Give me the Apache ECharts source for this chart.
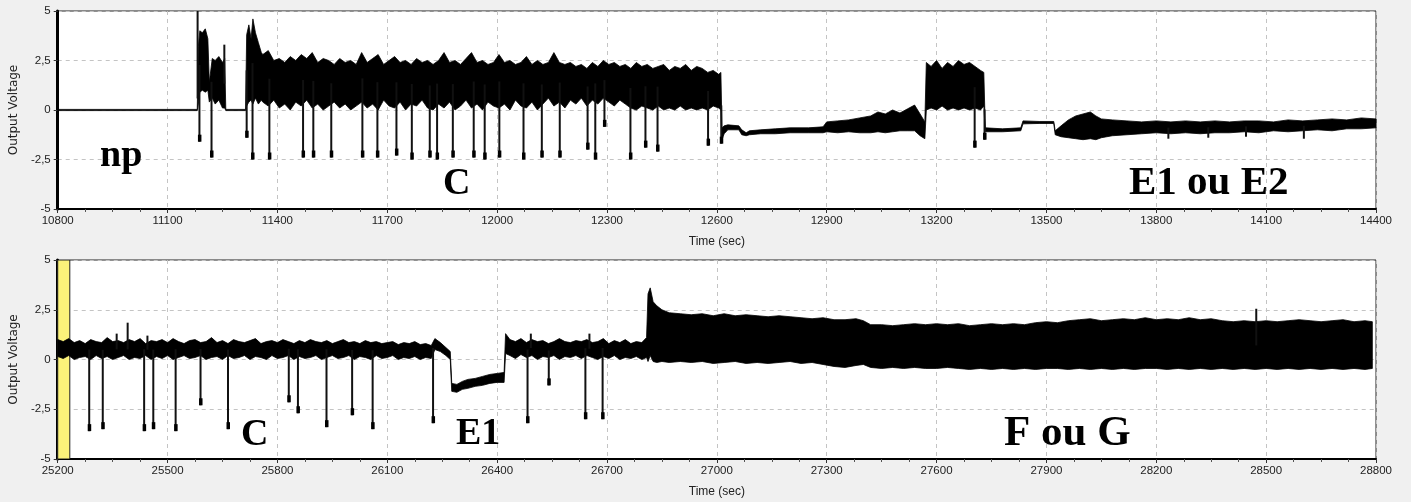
<!DOCTYPE html>
<html>
<head>
<meta charset="utf-8">
<title>Output Voltage – EPG</title>
<script src="https://cdn.jsdelivr.net/npm/echarts@6.0.0/dist/echarts.min.js"></script>
<style>
  html, body { margin: 0; padding: 0; background: #f0f0f0; }
  #chart { width: 1411px; height: 502px; }
</style>
</head>
<body>
<div id="chart"></div>
<script>
// Recording windows (seconds)
const topRange = [10800, 14400];
const bottomRange = [25200, 28800];

// Signal envelope, upper recording: [time, low, high] (volts)
const topEnvelope = [
  [10800, -0.03, 0.03], [11181, -0.03, 0.03],
  [11184, 0.3, 3.2], [11188, 0.9, 4.0], [11195, 1.0, 3.9], [11203, 0.9, 4.1], [11210, 1.0, 3.6], [11214, 0.4, 1.4],
  [11222, 0.6, 2.6], [11230, 0.3, 2.5], [11240, 0.5, 2.7], [11250, 0.1, 2.4], [11256, 0.1, 2.6],
  [11259, -0.03, 0.03], [11313, -0.03, 0.03],
  [11316, 0.2, 3.8], [11322, 0.4, 4.3], [11328, 0.5, 3.6], [11333, 0.3, 4.6], [11340, 0.6, 3.9], [11348, 0.3, 3.4], [11356, 0.5, 2.9],
  [11360, 0.4, 2.8], [11375, 0.2, 3.0], [11390, 0.5, 2.5], [11405, 0.1, 2.6], [11420, 0.3, 2.4], [11435, 0.0, 2.7],
  [11450, 0.4, 2.5], [11465, 0.2, 2.8], [11480, 0.5, 2.6], [11495, 0.1, 2.9], [11510, 0.3, 2.4], [11525, 0.0, 2.6],
  [11540, 0.2, 2.5], [11555, 0.4, 2.3], [11570, 0.1, 2.6], [11585, 0.3, 2.4], [11600, 0.0, 2.5], [11615, 0.2, 2.3],
  [11630, 0.4, 2.9], [11645, 0.1, 2.4], [11660, 0.3, 2.6], [11675, 0.0, 2.8], [11690, 0.5, 2.3], [11705, 0.2, 2.5],
  [11720, 0.1, 2.7], [11735, 0.4, 2.4], [11750, 0.0, 2.5], [11765, 0.3, 2.3], [11780, 0.2, 2.6], [11795, 0.5, 2.4],
  [11810, 0.1, 2.5], [11825, 0.0, 2.3], [11840, 0.3, 2.5], [11855, 0.1, 2.9], [11870, 0.4, 2.4], [11885, 0.0, 2.5],
  [11900, 0.2, 2.3], [11915, 0.5, 2.6], [11930, 0.1, 2.9], [11945, 0.3, 2.4], [11960, 0.0, 2.5], [11975, 0.4, 2.3],
  [11990, 0.2, 2.4], [12005, 0.1, 2.8], [12020, 0.3, 2.4], [12035, 0.0, 2.5], [12050, 0.5, 2.3], [12065, 0.2, 2.4],
  [12080, 0.1, 2.7], [12095, 0.4, 2.3], [12110, 0.0, 2.5], [12125, 0.3, 2.3], [12140, 0.6, 2.4], [12155, 0.2, 2.9],
  [12170, 0.4, 2.4], [12185, 0.1, 2.3], [12200, 0.5, 2.4], [12215, 0.3, 2.2], [12230, 0.6, 2.3], [12245, 0.2, 2.1],
  [12260, 0.5, 2.4], [12275, 0.3, 2.2], [12290, 0.6, 2.5], [12305, 0.4, 2.3], [12320, 0.2, 2.4], [12335, 0.5, 2.2],
  [12350, 0.3, 2.3], [12365, 0.1, 2.1], [12380, 0.0, 2.4], [12395, 0.2, 2.2], [12410, 0.1, 2.3], [12425, 0.0, 2.1],
  [12440, 0.2, 2.2], [12455, 0.0, 2.3], [12470, 0.1, 2.0], [12485, 0.0, 2.2], [12500, 0.2, 2.1], [12515, 0.0, 2.3],
  [12530, 0.1, 2.0], [12545, 0.0, 2.2], [12560, 0.1, 2.1], [12575, 0.0, 1.9], [12590, 0.2, 2.0], [12605, 0.1, 1.8],
  [12611, 0.0, 1.9],
  [12614, -1.5, -0.9], [12620, -1.2, -0.8], [12630, -1.0, -0.75], [12660, -1.0, -0.8], [12668, -1.25, -1.0],
  [12680, -1.3, -1.15], [12689, -1.25, -1.05], [12720, -1.2, -1.0], [12760, -1.2, -0.95], [12800, -1.15, -0.9],
  [12850, -1.15, -0.9], [12890, -1.15, -0.85], [12900, -1.1, -0.6], [12930, -1.15, -0.55], [12960, -1.1, -0.5],
  [12990, -1.15, -0.4], [13020, -1.15, -0.3], [13040, -1.1, -0.1], [13060, -1.15, -0.2], [13080, -1.1, 0.0],
  [13100, -1.05, -0.15], [13120, -1.05, 0.05], [13140, -1.05, 0.25], [13155, -1.3, -0.2], [13168, -1.45, -0.6],
  [13172, 0.0, 2.4], [13185, 0.1, 2.2], [13200, 0.0, 2.5], [13215, 0.2, 2.1], [13230, 0.0, 2.4], [13245, 0.1, 2.2],
  [13260, 0.0, 2.5], [13275, 0.1, 2.3], [13290, 0.0, 2.4], [13305, 0.1, 2.2], [13320, 0.0, 2.0], [13329, 0.2, 1.9],
  [13333, -1.1, -0.9], [13380, -1.1, -0.95], [13430, -1.05, -0.9], [13436, -0.7, -0.55], [13480, -0.68, -0.58],
  [13520, -0.68, -0.58], [13524, -1.25, -1.05], [13540, -1.35, -0.8], [13560, -1.4, -0.5], [13580, -1.45, -0.3],
  [13600, -1.5, -0.2], [13620, -1.45, -0.1], [13635, -1.5, -0.3], [13650, -1.4, -0.45], [13680, -1.3, -0.5],
  [13720, -1.25, -0.55], [13760, -1.2, -0.6], [13800, -1.15, -0.55], [13840, -1.2, -0.6], [13880, -1.15, -0.55],
  [13920, -1.2, -0.6], [13960, -1.15, -0.55], [14000, -1.15, -0.6], [14040, -1.1, -0.55], [14080, -1.15, -0.55],
  [14120, -1.05, -0.6], [14160, -1.1, -0.5], [14200, -1.05, -0.55], [14240, -1.0, -0.5], [14280, -1.05, -0.45],
  [14320, -0.95, -0.5], [14360, -0.95, -0.4], [14400, -0.9, -0.45]
];

// Isolated needles (potential drops and spikes), upper recording: [time, peak volts]
const topNeedles = [
  [11182, 5.0], [11187, -1.6], [11220, -2.4], [11255, 3.3], [11316, -1.4], [11332, -2.5],
  [11378, -2.5], [11470, -2.4], [11498, -2.4], [11547, -2.4], [11632, -2.4], [11673, -2.4],
  [11725, -2.3], [11767, -2.5], [11816, -2.4], [11836, -2.5], [11879, -2.4], [11936, -2.4],
  [11966, -2.5], [12006, -2.4], [12072, -2.5], [12122, -2.4], [12171, -2.4], [12247, -2.0],
  [12268, -2.5], [12293, -0.85], [12364, -2.5], [12405, -1.9], [12438, -2.1], [12576, -1.8],
  [12612, -1.7], [13304, -1.9], [13331, -1.5], [13833, -1.45], [13942, -1.4], [14045, -1.35],
  [14203, -1.45]
];

// Signal envelope, lower recording: [time, low, high] (volts)
const bottomEnvelope = [
  [25200, 0.15, 1.0], [25215, 0.05, 0.9], [25230, 0.2, 1.05], [25245, 0.0, 0.85], [25260, 0.1, 0.95],
  [25275, 0.15, 0.8], [25290, 0.0, 1.0], [25305, 0.2, 0.9], [25320, 0.05, 0.85], [25335, 0.15, 1.1],
  [25350, 0.0, 0.9], [25365, 0.1, 0.95], [25380, 0.2, 0.85], [25395, 0.0, 1.0], [25410, 0.1, 0.9],
  [25425, 0.05, 1.05], [25440, 0.2, 0.8], [25455, 0.0, 0.95], [25470, 0.15, 0.9], [25485, 0.05, 1.0],
  [25500, 0.2, 0.85], [25515, 0.0, 1.05], [25530, 0.1, 0.9], [25545, 0.2, 0.8], [25560, 0.05, 0.95],
  [25575, 0.1, 1.0], [25590, 0.2, 0.85], [25605, 0.0, 0.9], [25620, 0.1, 1.1], [25635, 0.15, 0.85],
  [25650, 0.0, 0.95], [25665, 0.2, 0.8], [25680, 0.05, 1.0], [25695, 0.1, 0.9], [25710, 0.2, 0.85],
  [25725, 0.0, 0.95], [25740, 0.15, 1.05], [25755, 0.1, 0.8], [25770, 0.0, 0.9], [25785, 0.2, 0.95],
  [25800, 0.05, 0.85], [25815, 0.1, 1.0], [25830, 0.2, 0.9], [25845, 0.0, 0.8], [25860, 0.15, 0.95],
  [25875, 0.05, 0.85], [25890, 0.1, 1.0], [25905, 0.2, 0.9], [25920, 0.0, 0.85], [25935, 0.1, 0.95],
  [25950, 0.2, 0.8], [25965, 0.05, 0.9], [25980, 0.1, 1.0], [25995, 0.2, 0.85], [26010, 0.0, 0.9],
  [26025, 0.15, 0.8], [26040, 0.1, 0.95], [26055, 0.0, 0.85], [26070, 0.2, 0.9], [26085, 0.05, 0.8],
  [26100, 0.1, 0.85], [26115, 0.2, 0.9], [26130, 0.0, 0.75], [26145, 0.1, 0.85], [26160, 0.05, 0.8],
  [26175, 0.15, 0.9], [26190, 0.0, 0.75], [26205, 0.1, 0.8], [26220, 0.05, 0.7],
  [26230, 0.5, 1.05], [26245, 0.4, 0.85], [26260, 0.2, 0.6], [26272, 0.0, 0.4],
  [26276, -1.6, -1.2], [26290, -1.65, -1.25], [26305, -1.5, -1.1], [26320, -1.45, -1.0], [26340, -1.35, -0.95],
  [26360, -1.3, -0.85], [26380, -1.2, -0.75], [26400, -1.15, -0.7], [26419, -1.15, -0.65],
  [26423, 0.3, 1.3], [26435, 0.2, 1.0], [26450, 0.05, 0.9], [26465, 0.25, 1.05], [26480, 0.1, 0.85],
  [26495, 0.2, 1.0], [26510, 0.0, 0.9], [26525, 0.15, 0.95], [26540, 0.1, 0.8], [26555, 0.2, 0.9],
  [26570, 0.0, 1.05], [26585, 0.15, 0.9], [26600, 0.1, 0.85], [26615, 0.2, 0.95], [26630, 0.05, 0.9],
  [26645, 0.2, 1.0], [26660, 0.1, 0.85], [26675, 0.0, 0.9], [26690, 0.15, 1.05], [26705, 0.05, 0.8],
  [26720, 0.2, 0.95], [26735, 0.0, 0.85], [26750, 0.1, 1.0], [26765, 0.05, 0.8], [26780, 0.15, 0.9],
  [26795, 0.0, 0.85], [26808, 0.1, 1.1],
  [26812, -0.1, 3.3], [26818, 0.2, 3.6], [26826, -0.1, 2.9], [26836, -0.15, 2.7], [26850, -0.1, 2.5],
  [26870, -0.15, 2.35], [26900, -0.1, 2.3], [26930, -0.15, 2.25], [26960, -0.1, 2.3], [26990, -0.2, 2.2],
  [27020, -0.15, 2.3], [27050, -0.1, 2.2], [27080, -0.2, 2.25], [27110, -0.15, 2.2], [27140, -0.2, 2.15],
  [27170, -0.15, 2.2], [27200, -0.1, 2.15], [27230, -0.2, 2.1], [27260, -0.15, 2.05], [27290, -0.25, 2.1],
  [27320, -0.35, 2.0], [27350, -0.4, 2.0], [27380, -0.3, 2.05], [27400, -0.25, 1.95], [27420, -0.4, 1.75],
  [27450, -0.45, 1.75], [27480, -0.4, 1.7], [27510, -0.45, 1.75], [27540, -0.4, 1.8], [27570, -0.45, 1.75],
  [27600, -0.45, 1.8], [27630, -0.4, 1.75], [27660, -0.45, 1.8], [27690, -0.5, 1.7], [27720, -0.45, 1.75],
  [27750, -0.5, 1.8], [27780, -0.45, 1.75], [27810, -0.5, 1.8], [27840, -0.45, 1.75], [27870, -0.5, 1.85],
  [27900, -0.45, 1.9], [27930, -0.45, 1.85], [27960, -0.5, 1.95], [27990, -0.45, 2.0], [28020, -0.5, 2.05],
  [28050, -0.45, 1.95], [28080, -0.5, 2.0], [28110, -0.45, 2.05], [28140, -0.5, 2.0], [28170, -0.45, 2.1],
  [28200, -0.45, 2.0], [28230, -0.5, 2.05], [28260, -0.45, 2.0], [28290, -0.5, 2.1], [28320, -0.45, 2.0],
  [28350, -0.5, 2.05], [28380, -0.45, 1.95], [28410, -0.5, 1.9], [28440, -0.45, 1.95], [28470, -0.5, 1.9],
  [28500, -0.45, 1.95], [28530, -0.5, 1.9], [28560, -0.45, 1.95], [28590, -0.5, 2.0], [28620, -0.45, 1.95],
  [28650, -0.5, 1.9], [28680, -0.45, 1.95], [28710, -0.5, 2.0], [28740, -0.45, 1.9], [28770, -0.5, 1.95],
  [28790, -0.45, 1.9]
];

// Isolated needles, lower recording: [time, peak volts]
const bottomNeedles = [
  [25286, -3.6], [25323, -3.5], [25361, 1.3], [25391, 1.85], [25436, -3.6], [25445, 1.2],
  [25461, -3.5], [25522, -3.6], [25590, -2.3], [25665, -3.5], [25831, -2.15], [25856, -2.7],
  [25934, -3.4], [26004, -2.8], [26060, -3.5], [26225, -3.2], [26483, -3.2], [26492, 1.3],
  [26541, -1.3], [26641, -3.0], [26652, 1.3], [26688, -3.0], [28473, 2.55]
];

// Highlighted start of the lower recording: [from, to] seconds
const bottomMarker = [[25200, 25233]];

// Waveform phase labels
const topPhaseLabels = ['np', 'C', 'E1 ou E2'];
const bottomPhaseLabels = ['C', 'E1', 'F ou G'];

const chart = echarts.init(document.getElementById('chart'), null, { renderer: 'canvas' });

function envelopeMid(env, t) {
  for (let i = 1; i < env.length; i++) {
    if (env[i][0] >= t) {
      const a = env[i - 1], b = env[i];
      const f = b[0] === a[0] ? 0 : (t - a[0]) / (b[0] - a[0]);
      const lo = a[1] + (b[1] - a[1]) * f;
      const hi = a[2] + (b[2] - a[2]) * f;
      return (lo + hi) / 2;
    }
  }
  const last = env[env.length - 1];
  return (last[1] + last[2]) / 2;
}

// Filled band between the low and high traces of a recording
function envelopeSeries(env, idx) {
  return {
    type: 'custom',
    xAxisIndex: idx, yAxisIndex: idx,
    clip: true,
    z: 3,
    silent: true,
    data: [[env[0][0], env[0][1]]],
    renderItem: function (params, api) {
      const upper = env.map(p => api.coord([p[0], p[2]]));
      const lower = env.map(p => api.coord([p[0], p[1]])).reverse();
      return {
        type: 'polygon',
        shape: { points: upper.concat(lower) },
        style: { fill: '#000', stroke: '#000', lineWidth: 0.8, lineJoin: 'miter' }
      };
    }
  };
}

// Single vertical excursions leaving the band
function needleSeries(needles, env, idx) {
  return {
    type: 'custom',
    xAxisIndex: idx, yAxisIndex: idx,
    clip: true,
    z: 4,
    silent: true,
    data: needles,
    renderItem: function (params, api) {
      const t = api.value(0), v = api.value(1);
      const mid = envelopeMid(env, t);
      const a = api.coord([t, mid]);
      const b = api.coord([t, v]);
      const children = [{
        type: 'line',
        shape: { x1: a[0], y1: a[1], x2: b[0], y2: b[1] },
        style: { stroke: '#111', lineWidth: 2 }
      }];
      if (mid - v > 1.5) {
        children.push({
          type: 'rect',
          shape: { x: b[0] - 1.5, y: b[1] - 7, width: 3.5, height: 7 },
          style: { fill: '#000' }
        });
      }
      return { type: 'group', children: children };
    }
  };
}

function markerSeries(spans, idx) {
  return {
    type: 'custom',
    xAxisIndex: idx, yAxisIndex: idx,
    clip: true,
    z: 2,
    silent: true,
    data: spans,
    renderItem: function (params, api) {
      const p0 = api.coord([api.value(0), 5]);
      const p1 = api.coord([api.value(1), -5]);
      return {
        type: 'rect',
        shape: { x: p0[0], y: p0[1], width: p1[0] - p0[0], height: p1[1] - p0[1] },
        style: { fill: '#fbf27a', stroke: '#222', lineWidth: 1 }
      };
    }
  };
}

const tickFont = { fontFamily: 'Liberation Sans', fontSize: 11.5, color: '#222' };

function xAxisFor(range, idx) {
  return {
    type: 'value', gridIndex: idx,
    min: range[0], max: range[1], interval: 300,
    name: 'Time (sec)', nameLocation: 'middle', nameGap: 27,
    nameTextStyle: { fontFamily: 'Liberation Sans', fontSize: 12, color: '#222' },
    axisLine: { show: true, onZero: false, lineStyle: { color: '#000', width: 2 } },
    axisTick: { show: true, length: 4, lineStyle: { color: '#333' } },
    minorTick: { show: true, splitNumber: 4, length: 3, lineStyle: { color: '#555' } },
    axisLabel: Object.assign({ margin: 6, showMinLabel: true, showMaxLabel: true,
                               formatter: v => String(v) }, tickFont),
    splitLine: { show: true, lineStyle: { color: '#c4c4c4', type: [4, 4], width: 1 } }
  };
}

function yAxisFor(idx) {
  return {
    type: 'value', gridIndex: idx,
    min: -5, max: 5, interval: 2.5,
    name: 'Output Voltage', nameLocation: 'middle', nameGap: 36, nameRotate: 90,
    nameTextStyle: { fontFamily: 'DejaVu Sans', fontSize: 12, color: '#222' },
    axisLine: { show: true, onZero: false, lineStyle: { color: '#000', width: 3 } },
    axisTick: { show: true, length: 4, lineStyle: { color: '#333' } },
    axisLabel: Object.assign({ margin: 7, formatter: v => String(v).replace('.', ',') }, tickFont),
    splitLine: { show: true, lineStyle: { color: '#c4c4c4', type: [4, 4], width: 1 } }
  };
}

function phaseLabel(text, x, y, size) {
  return { type: 'text', x: x, y: y, z: 10,
           style: { text: text, font: 'bold ' + size + 'px "Liberation Serif", "Times New Roman", serif',
                    fill: '#000', verticalAlign: 'middle', align: 'left' } };
}

chart.setOption({
  backgroundColor: '#f0f0f0',
  animation: false,
  grid: [
    { left: 54, top: 11, width: 1322, height: 198, show: true, backgroundColor: '#fff', borderColor: '#222', borderWidth: 1 },
    { left: 54, top: 260, width: 1322, height: 199, show: true, backgroundColor: '#fff', borderColor: '#222', borderWidth: 1 }
  ],
  xAxis: [xAxisFor(topRange, 0), xAxisFor(bottomRange, 1)],
  yAxis: [yAxisFor(0), yAxisFor(1)],
  series: [
    envelopeSeries(topEnvelope, 0),
    needleSeries(topNeedles, topEnvelope, 0),
    markerSeries(bottomMarker, 1),
    envelopeSeries(bottomEnvelope, 1),
    needleSeries(bottomNeedles, bottomEnvelope, 1)
  ],
  graphic: [
    phaseLabel(topPhaseLabels[0], 100, 156, 38),
    phaseLabel(topPhaseLabels[1], 443, 184, 38),
    phaseLabel(topPhaseLabels[2], 1129, 183, 41),
    phaseLabel(bottomPhaseLabels[0], 241, 435, 38),
    phaseLabel(bottomPhaseLabels[1], 456, 434, 38),
    phaseLabel(bottomPhaseLabels[2], 1004, 434, 43)
  ]
});
</script>
</body>
</html>
